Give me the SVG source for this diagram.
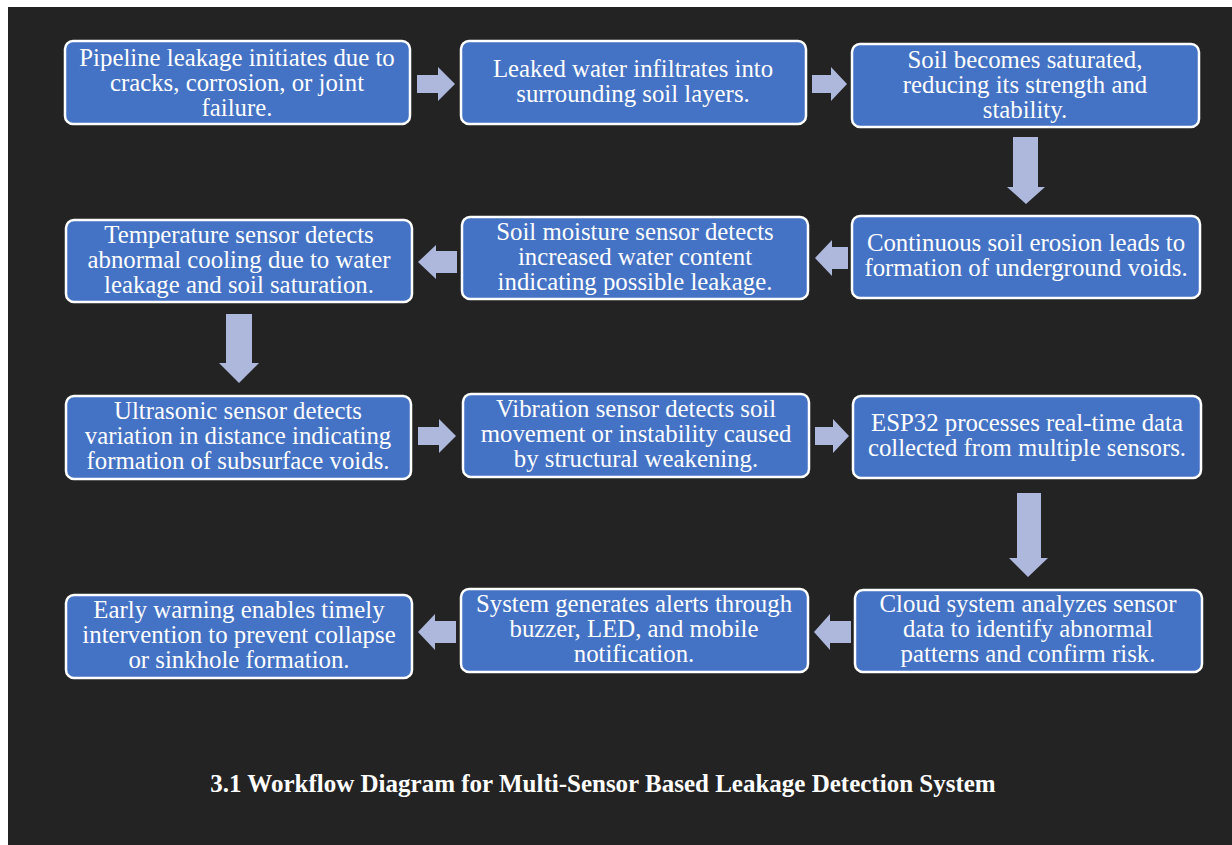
<svg xmlns="http://www.w3.org/2000/svg" width="1232" height="845" viewBox="0 0 1232 845">
<style>
.box{fill:#4472C4;stroke:#FFFFFF;stroke-width:2.5}
.t{font-family:"Liberation Serif","Times New Roman",serif;font-size:24.8px;fill:#FFFFFF;text-anchor:middle}
.arr{fill:#AEB8DD}
.title{font-family:"Liberation Serif","Times New Roman",serif;font-size:25px;font-weight:bold;fill:#FFFFFF;text-anchor:middle}
</style>
<rect x="0" y="0" width="1232" height="845" fill="#FFFFFF"/>
<rect x="8" y="7" width="1224" height="838" fill="#232323"/>
<g id="connectors">
<polygon class="arr" points="417,75 438,75 438,67 455,84 438,101 438,93 417,93"/>
<polygon class="arr" points="812,75 831,75 831,67 847,84 831,101 831,93 812,93"/>
<polygon class="arr" points="1013,137 1038,137 1038,187 1045,187 1026,204 1007,187 1013,187"/>
<polygon class="arr" points="848,247 832,247 832,240 815,258 832,276 832,269 848,269"/>
<polygon class="arr" points="457,251 436,251 436,245 418,262 436,279 436,273 457,273"/>
<polygon class="arr" points="226,314 252,314 252,363 259,363 239,383 219,363 226,363"/>
<polygon class="arr" points="418,427 439,427 439,419 456,436 439,453 439,445 418,445"/>
<polygon class="arr" points="815,427 833,427 833,419 849,436 833,453 833,445 815,445"/>
<polygon class="arr" points="1017,493 1041,493 1041,558 1048,558 1028,577 1009,558 1017,558"/>
<polygon class="arr" points="851,621 830,621 830,614 814,632 830,650 830,643 851,643"/>
<polygon class="arr" points="456,621 435,621 435,614 418,632 435,650 435,643 456,643"/>
</g>
<g id="n1">
<rect class="box" x="65" y="41" width="345" height="83" rx="8"/>
<text class="t" x="237" y="66">Pipeline leakage initiates due to</text>
<text class="t" x="237" y="91">cracks, corrosion, or joint</text>
<text class="t" x="237" y="116">failure.</text>
</g>
<g id="n2">
<rect class="box" x="461" y="41" width="345" height="83" rx="8"/>
<text class="t" x="633" y="77">Leaked water infiltrates into</text>
<text class="t" x="633" y="102">surrounding soil layers.</text>
</g>
<g id="n3">
<rect class="box" x="852" y="44" width="347" height="83" rx="8"/>
<text class="t" x="1025" y="68">Soil becomes saturated,</text>
<text class="t" x="1025" y="93">reducing its strength and</text>
<text class="t" x="1025" y="118">stability.</text>
</g>
<g id="n4">
<rect class="box" x="852" y="216" width="348" height="82" rx="8"/>
<text class="t" x="1026" y="251">Continuous soil erosion leads to</text>
<text class="t" x="1026" y="276">formation of underground voids.</text>
</g>
<g id="n5">
<rect class="box" x="462" y="217" width="346" height="82" rx="8"/>
<text class="t" x="635" y="240">Soil moisture sensor detects</text>
<text class="t" x="635" y="265">increased water content</text>
<text class="t" x="635" y="290">indicating possible leakage.</text>
</g>
<g id="n6">
<rect class="box" x="66" y="220" width="346" height="82" rx="8"/>
<text class="t" x="239" y="243">Temperature sensor detects</text>
<text class="t" x="239" y="268">abnormal cooling due to water</text>
<text class="t" x="239" y="293">leakage and soil saturation.</text>
</g>
<g id="n7">
<rect class="box" x="66" y="396" width="345" height="83" rx="8"/>
<text class="t" x="238" y="419">Ultrasonic sensor detects</text>
<text class="t" x="238" y="444">variation in distance indicating</text>
<text class="t" x="238" y="469">formation of subsurface voids.</text>
</g>
<g id="n8">
<rect class="box" x="463" y="394" width="346" height="83" rx="8"/>
<text class="t" x="636" y="417">Vibration sensor detects soil</text>
<text class="t" x="636" y="442">movement or instability caused</text>
<text class="t" x="636" y="467">by structural weakening.</text>
</g>
<g id="n9">
<rect class="box" x="853" y="396" width="348" height="82" rx="8"/>
<text class="t" x="1027" y="431">ESP32 processes real-time data</text>
<text class="t" x="1027" y="456">collected from multiple sensors.</text>
</g>
<g id="n10">
<rect class="box" x="855" y="590" width="347" height="82" rx="8"/>
<text class="t" x="1028" y="612">Cloud system analyzes sensor</text>
<text class="t" x="1028" y="637">data to identify abnormal</text>
<text class="t" x="1028" y="662">patterns and confirm risk.</text>
</g>
<g id="n11">
<rect class="box" x="461" y="589" width="347" height="83" rx="8"/>
<text class="t" x="634" y="612">System generates alerts through</text>
<text class="t" x="634" y="637">buzzer, LED, and mobile</text>
<text class="t" x="634" y="662">notification.</text>
</g>
<g id="n12">
<rect class="box" x="66" y="595" width="346" height="83" rx="8"/>
<text class="t" x="239" y="618">Early warning enables timely</text>
<text class="t" x="239" y="643">intervention to prevent collapse</text>
<text class="t" x="239" y="668">or sinkhole formation.</text>
</g>
<text class="title" x="603" y="792">3.1 Workflow Diagram for Multi-Sensor Based Leakage Detection System</text>
</svg>
